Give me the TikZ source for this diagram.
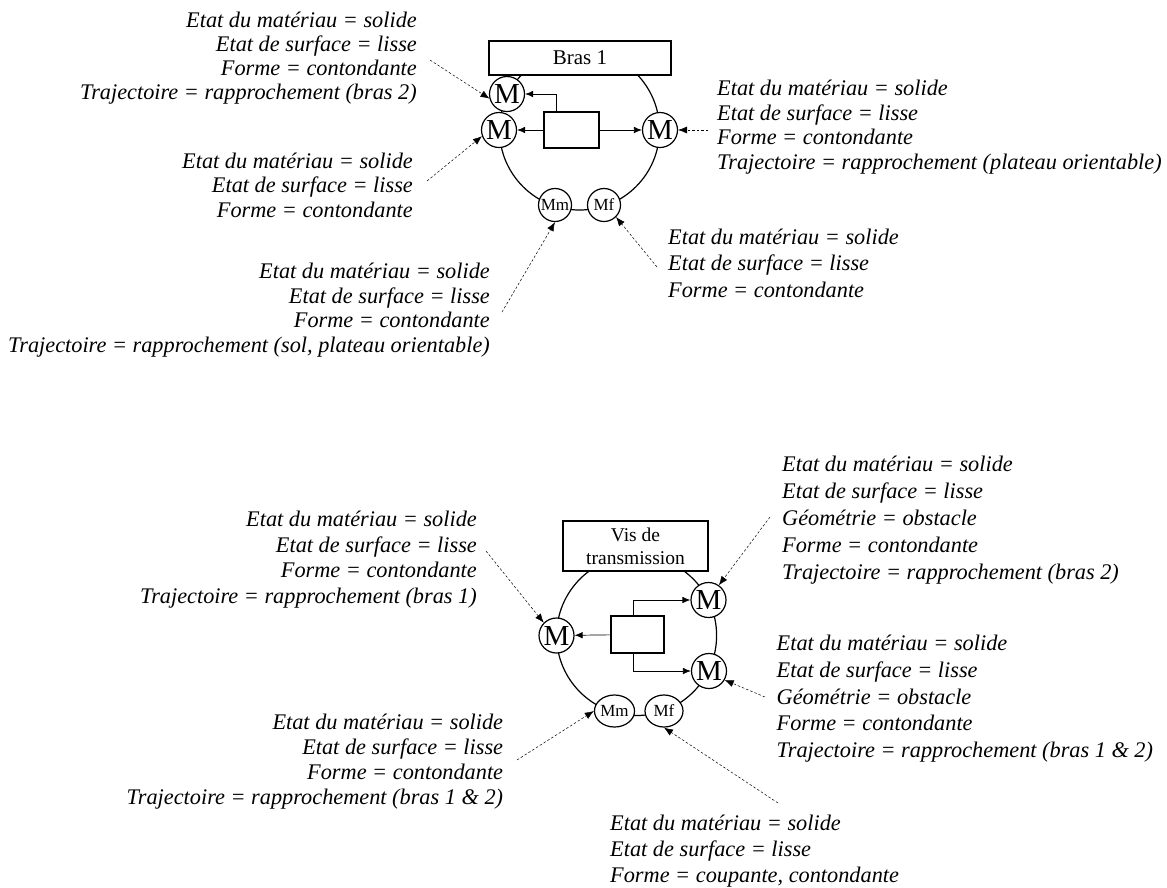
\documentclass[tikz,border=0pt]{standalone}
\usepackage{fontspec}
\setmainfont{Liberation Serif}
\usetikzlibrary{arrows.meta,shapes.geometric}
\newcommand\mytxtblock[6]{%
  \foreach \tline [count=\ti from 0] in {#6} {%
    \node[lbl,anchor=#2] (#1-\ti) at (#3,{#4+\ti*#5}) {\tline};
  }%
}
\begin{document}
\begin{tikzpicture}[x=1pt,y=-1pt,
  lbl/.style={font=\fontsize{22.3}{24}\selectfont\itshape, inner sep=0pt},
  mnode/.style={circle,draw,fill=white,line width=1.2pt,inner sep=0pt,minimum size=35pt,font=\fontsize{29}{29}\selectfont},
  msnode/.style={circle,draw,fill=white,line width=1.2pt,inner sep=0pt,minimum size=33pt,font=\fontsize{17}{17}\selectfont},
  menode/.style={ellipse,draw,fill=white,line width=1.2pt,inner sep=0pt,minimum width=37pt,minimum height=32pt,font=\fontsize{17}{17}\selectfont},
  titlebox/.style={rectangle,draw,fill=white,line width=1.2pt,inner sep=0pt,align=center},
  inbox/.style={rectangle,draw,fill=white,line width=1.1pt,inner sep=0pt},
  ring/.style={line width=1.2pt},
  arr/.style={line width=0.7pt,-{Latex[length=8pt,width=6.5pt]}},
  darr/.style={line width=0.5pt,dash pattern=on 2.5pt off 2pt,-{Latex[length=9pt,width=7pt]}}
]
\useasboundingbox (0,0) rectangle (1167,887);

% ---------------- top diagram ----------------
\draw[ring] (579.5,130) circle[radius=80];
\node[titlebox,minimum width=182pt,minimum height=34pt,font=\fontsize{21}{23}\selectfont] (bras) at (580,58) {Bras 1};
\node[mnode] (m1) at (507,94) {M};
\node[mnode] (m2) at (499,130) {M};
\node[mnode] (m3) at (660,130) {M};
\node[msnode] (mm1) at (555,205) {Mm};
\node[msnode] (mf1) at (604,205) {Mf};
\node[inbox,minimum width=55pt,minimum height=36pt] (r1) at (571.5,130) {};
\draw[arr] ([xshift=-15.5pt]r1.north) |- (m1);
\draw[arr] (r1) -- (m2);
\draw[arr] (r1) -- (m3);

\mytxtblock{t1}{base east}{417}{27.3}{24.2}{Etat du matériau = solide,Etat de surface = lisse,Forme = contondante,Trajectoire = rapprochement (bras 2)}
\mytxtblock{t2}{base west}{717}{95.5}{24.5}{Etat du matériau = solide,Etat de surface = lisse,Forme = contondante,Trajectoire = rapprochement (plateau orientable)}
\mytxtblock{t3}{base east}{413}{168.3}{24.5}{Etat du matériau = solide,Etat de surface = lisse,Forme = contondante}
\mytxtblock{t4}{base west}{668}{244}{26.5}{Etat du matériau = solide,Etat de surface = lisse,Forme = contondante}
\mytxtblock{t5}{base east}{490}{278.3}{24.7}{Etat du matériau = solide,Etat de surface = lisse,Forme = contondante,{Trajectoire = rapprochement (sol, plateau orientable)}}

\coordinate (c1) at (430,60);
\coordinate (c2) at (427,181);
\coordinate (c3) at (708,130);
\coordinate (c4) at (657,267);
\coordinate (c5) at (502,312);
\draw[darr] (c1) -- (m1.195);
\draw[darr] (c2) -- (m2.200);
\draw[darr] (c3) -- (m3);
\draw[darr] (c4) -- (mf1.-45);
\draw[darr] (c5) -- (mm1.south);

% ---------------- bottom diagram ----------------
\draw[ring] (636.6,635.5) circle[radius=80];
\node[titlebox,minimum width=145pt,minimum height=50pt,font=\fontsize{19.5}{23}\selectfont] (vis) at (635.5,546) {Vis de\\transmission};
\node[mnode] (m4) at (556.5,635.5) {M};
\node[mnode] (m5) at (708.5,600) {M};
\node[mnode] (m6) at (709,671) {M};
\node[menode] (mm2) at (614.5,711) {Mm};
\node[menode,minimum width=38pt] (mf2) at (664,711) {Mf};
\node[inbox,minimum width=53pt,minimum height=37pt] (r2) at (637.5,634.5) {};
\draw[arr] (r2) -- (m4);
\draw[arr] ([xshift=-4pt]r2.north) |- (m5);
\draw[arr] ([xshift=-4pt]r2.south) |- (m6);

\mytxtblock{t6}{base east}{477}{526.3}{25.7}{Etat du matériau = solide,Etat de surface = lisse,Forme = contondante,Trajectoire = rapprochement (bras 1)}
\mytxtblock{t7}{base west}{782}{471.7}{26.9}{Etat du matériau = solide,Etat de surface = lisse,Géométrie = obstacle,Forme = contondante,Trajectoire = rapprochement (bras 2)}
\mytxtblock{t8}{base west}{776.5}{650.8}{26.6}{Etat du matériau = solide,Etat de surface = lisse,Géométrie = obstacle,Forme = contondante,Trajectoire = rapprochement (bras 1 \& 2)}
\mytxtblock{t9}{base west}{610}{830}{26}{Etat du matériau = solide,Etat de surface = lisse,{Forme = coupante, contondante}}
\mytxtblock{t10}{base east}{503.3}{729}{25.3}{Etat du matériau = solide,Etat de surface = lisse,Forme = contondante,Trajectoire = rapprochement (bras 1 \& 2)}

\coordinate (c6) at (486,551);
\coordinate (c7) at (770,517);
\coordinate (c8) at (765,697);
\coordinate (c9) at (778,803);
\coordinate (c10) at (517,760);
\draw[darr] (c6) -- (m4.135);
\draw[darr] (c7) -- (m5.55);
\draw[darr] (c8) -- (m6.-30);
\draw[darr] (c9) -- (mf2.south);
\draw[darr] (c10) -- (mm2.west);
\end{tikzpicture}
\end{document}
